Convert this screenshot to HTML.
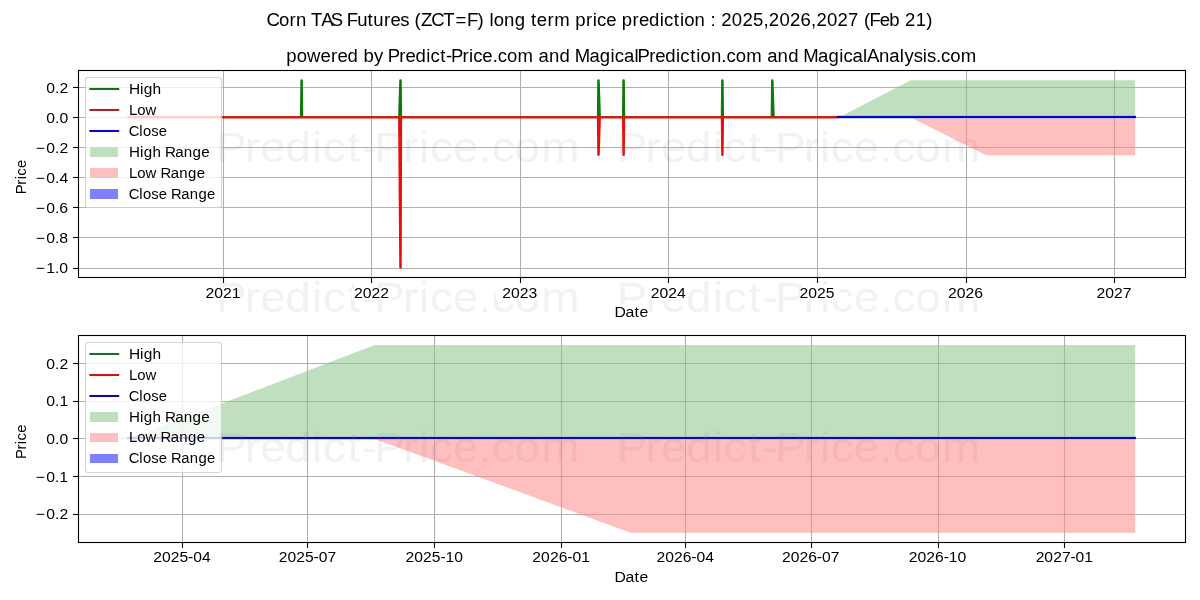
<!DOCTYPE html>
<html lang="en"><head><meta charset="utf-8"><title>Corn TAS Futures (ZCT=F) long term price prediction</title>
<style>html,body{margin:0;padding:0;background:#fff}body{width:1200px;height:600px;overflow:hidden}svg{display:block;will-change:transform}text{font-family:"Liberation Sans",sans-serif;white-space:pre;font-variant-ligatures:none;font-kerning:none}</style></head><body>
<svg width="1200" height="600" viewBox="0 0 1200 600">
<rect width="1200" height="600" fill="#fff"/>
<!-- axes 0 -->
<clipPath id="clip0"><rect x="78.5" y="70.5" width="1107.0" height="207.0"/></clipPath>
<g clip-path="url(#clip0)">
<line x1="223.5" y1="70.5" x2="223.5" y2="277.5" stroke="#b0b0b0" stroke-width="1.11"/>
<line x1="371.5" y1="70.5" x2="371.5" y2="277.5" stroke="#b0b0b0" stroke-width="1.11"/>
<line x1="520.5" y1="70.5" x2="520.5" y2="277.5" stroke="#b0b0b0" stroke-width="1.11"/>
<line x1="668.5" y1="70.5" x2="668.5" y2="277.5" stroke="#b0b0b0" stroke-width="1.11"/>
<line x1="817.5" y1="70.5" x2="817.5" y2="277.5" stroke="#b0b0b0" stroke-width="1.11"/>
<line x1="966.5" y1="70.5" x2="966.5" y2="277.5" stroke="#b0b0b0" stroke-width="1.11"/>
<line x1="1114.5" y1="70.5" x2="1114.5" y2="277.5" stroke="#b0b0b0" stroke-width="1.11"/>
<line x1="78.5" y1="268.5" x2="1185.5" y2="268.5" stroke="#b0b0b0" stroke-width="1.11"/>
<line x1="78.5" y1="237.5" x2="1185.5" y2="237.5" stroke="#b0b0b0" stroke-width="1.11"/>
<line x1="78.5" y1="207.5" x2="1185.5" y2="207.5" stroke="#b0b0b0" stroke-width="1.11"/>
<line x1="78.5" y1="177.5" x2="1185.5" y2="177.5" stroke="#b0b0b0" stroke-width="1.11"/>
<line x1="78.5" y1="147.5" x2="1185.5" y2="147.5" stroke="#b0b0b0" stroke-width="1.11"/>
<line x1="78.5" y1="117.5" x2="1185.5" y2="117.5" stroke="#b0b0b0" stroke-width="1.11"/>
<line x1="78.5" y1="87.5" x2="1185.5" y2="87.5" stroke="#b0b0b0" stroke-width="1.11"/>
<polygon points="838.32,117.78 1135.18,117.78 1135.18,80.22 911.11,80.22 910.71,80.35 838.32,117.78" fill="#bfdfbf"/>
<polygon points="838.32,117.78 1135.18,117.78 1135.18,155.33 986.34,155.33 911.11,117.86 910.71,117.78 838.32,117.78" fill="#ffbfbf"/>
<clipPath id="fillclip0"><polygon points="838.32,117.78 1135.18,117.78 1135.18,80.22 911.11,80.22 910.71,80.35 838.32,117.78"/><polygon points="838.32,117.78 1135.18,117.78 1135.18,155.33 986.34,155.33 911.11,117.86 910.71,117.78 838.32,117.78"/></clipPath>
<g clip-path="url(#fillclip0)">
<line x1="223.5" y1="70.5" x2="223.5" y2="277.5" stroke="#000" stroke-opacity="0.165" stroke-width="1.11"/>
<line x1="371.5" y1="70.5" x2="371.5" y2="277.5" stroke="#000" stroke-opacity="0.165" stroke-width="1.11"/>
<line x1="520.5" y1="70.5" x2="520.5" y2="277.5" stroke="#000" stroke-opacity="0.165" stroke-width="1.11"/>
<line x1="668.5" y1="70.5" x2="668.5" y2="277.5" stroke="#000" stroke-opacity="0.165" stroke-width="1.11"/>
<line x1="817.5" y1="70.5" x2="817.5" y2="277.5" stroke="#000" stroke-opacity="0.165" stroke-width="1.11"/>
<line x1="966.5" y1="70.5" x2="966.5" y2="277.5" stroke="#000" stroke-opacity="0.165" stroke-width="1.11"/>
<line x1="1114.5" y1="70.5" x2="1114.5" y2="277.5" stroke="#000" stroke-opacity="0.165" stroke-width="1.11"/>
<line x1="78.5" y1="268.5" x2="1185.5" y2="268.5" stroke="#000" stroke-opacity="0.165" stroke-width="1.11"/>
<line x1="78.5" y1="237.5" x2="1185.5" y2="237.5" stroke="#000" stroke-opacity="0.165" stroke-width="1.11"/>
<line x1="78.5" y1="207.5" x2="1185.5" y2="207.5" stroke="#000" stroke-opacity="0.165" stroke-width="1.11"/>
<line x1="78.5" y1="177.5" x2="1185.5" y2="177.5" stroke="#000" stroke-opacity="0.165" stroke-width="1.11"/>
<line x1="78.5" y1="147.5" x2="1185.5" y2="147.5" stroke="#000" stroke-opacity="0.165" stroke-width="1.11"/>
<line x1="78.5" y1="117.5" x2="1185.5" y2="117.5" stroke="#000" stroke-opacity="0.165" stroke-width="1.11"/>
<line x1="78.5" y1="87.5" x2="1185.5" y2="87.5" stroke="#000" stroke-opacity="0.165" stroke-width="1.11"/>
</g>
<polyline points="301.20,117.28 301.60,80.42 302.00,117.28" fill="none" stroke="#0a7a09" stroke-width="2.5" stroke-linejoin="round"/>
<polyline points="399.30,117.28 400.50,80.42 400.90,117.28" fill="none" stroke="#0a7a09" stroke-width="2.5" stroke-linejoin="round"/>
<polyline points="598.10,117.28 598.50,80.42 599.70,117.28" fill="none" stroke="#0a7a09" stroke-width="2.5" stroke-linejoin="round"/>
<polyline points="623.20,117.28 623.60,80.42 624.00,117.28" fill="none" stroke="#0a7a09" stroke-width="2.5" stroke-linejoin="round"/>
<polyline points="722.00,117.28 722.40,80.42 722.80,117.28" fill="none" stroke="#0a7a09" stroke-width="2.5" stroke-linejoin="round"/>
<polyline points="771.90,117.28 772.30,80.42 773.50,117.28" fill="none" stroke="#0a7a09" stroke-width="2.5" stroke-linejoin="round"/>
<line x1="127.2" y1="117.27" x2="838.9" y2="117.27" stroke="#ca210f" stroke-width="2.55"/>
<polyline points="399.30,117.28 400.50,267.50 400.90,117.28" fill="none" stroke="#e80f0a" stroke-width="2.5" stroke-linejoin="round"/>
<polyline points="598.10,117.28 598.50,154.83 599.70,117.28" fill="none" stroke="#e80f0a" stroke-width="2.5" stroke-linejoin="round"/>
<polyline points="623.20,117.28 623.60,154.83 624.00,117.28" fill="none" stroke="#e80f0a" stroke-width="2.5" stroke-linejoin="round"/>
<polyline points="722.00,117.28 722.40,154.83 722.80,117.28" fill="none" stroke="#e80f0a" stroke-width="2.5" stroke-linejoin="round"/>
<line x1="836.78" y1="117" x2="1136.06" y2="117" stroke="#a5afff" stroke-opacity="0.6" stroke-width="4"/>
<line x1="836.78" y1="117" x2="1136.06" y2="117" stroke="#0608bc" stroke-width="2.08"/>
</g>
<rect x="78.5" y="70.5" width="1107.0" height="207.0" fill="none" stroke="#000" stroke-width="1.1"/>
<line x1="223.5" y1="277.5" x2="223.5" y2="282.9" stroke="#000" stroke-width="1.1"/>
<line x1="371.5" y1="277.5" x2="371.5" y2="282.9" stroke="#000" stroke-width="1.1"/>
<line x1="520.5" y1="277.5" x2="520.5" y2="282.9" stroke="#000" stroke-width="1.1"/>
<line x1="668.5" y1="277.5" x2="668.5" y2="282.9" stroke="#000" stroke-width="1.1"/>
<line x1="817.5" y1="277.5" x2="817.5" y2="282.9" stroke="#000" stroke-width="1.1"/>
<line x1="966.5" y1="277.5" x2="966.5" y2="282.9" stroke="#000" stroke-width="1.1"/>
<line x1="1114.5" y1="277.5" x2="1114.5" y2="282.9" stroke="#000" stroke-width="1.1"/>
<line x1="73.1" y1="268.5" x2="78.5" y2="268.5" stroke="#000" stroke-width="1.1"/>
<line x1="73.1" y1="237.5" x2="78.5" y2="237.5" stroke="#000" stroke-width="1.1"/>
<line x1="73.1" y1="207.5" x2="78.5" y2="207.5" stroke="#000" stroke-width="1.1"/>
<line x1="73.1" y1="177.5" x2="78.5" y2="177.5" stroke="#000" stroke-width="1.1"/>
<line x1="73.1" y1="147.5" x2="78.5" y2="147.5" stroke="#000" stroke-width="1.1"/>
<line x1="73.1" y1="117.5" x2="78.5" y2="117.5" stroke="#000" stroke-width="1.1"/>
<line x1="73.1" y1="87.5" x2="78.5" y2="87.5" stroke="#000" stroke-width="1.1"/>
<rect x="85.5" y="77.5" width="136.0" height="130.0" rx="2.8" ry="2.8" fill="#fff" fill-opacity="0.8" stroke="#ccc" stroke-opacity="0.8" stroke-width="1.1"/>
<line x1="89.36" y1="89" x2="119.22" y2="89" stroke="#12701c" stroke-width="2.08"/>
<text transform="translate(129.29,93.83) scale(1.0579,1)" x="-0.36 10.06 13.59 21.91" y="0" font-size="14.65" fill="#000">High</text>
<line x1="89.36" y1="110" x2="119.22" y2="110" stroke="#a5252a" stroke-width="2.08"/>
<text transform="translate(129.29,114.78) scale(1.0186,1)" x="-0.27 7.71 16.00" y="0" font-size="14.65" fill="#000">Low</text>
<line x1="89.36" y1="131" x2="119.22" y2="131" stroke="#0b08c5" stroke-width="2.08"/>
<text transform="translate(129.29,135.72) scale(1.0077,1)" x="-0.49 9.89 13.56 21.76 29.16" y="0" font-size="14.65" fill="#000">Close</text>
<rect x="90" y="147" width="28" height="10" fill="#bfdfbf"/>
<text transform="translate(129.29,156.67) scale(1.0361,1)" x="-0.25 10.32 13.99 22.50 30.91 34.45 44.42 52.49 61.00 69.38" y="0" font-size="14.65" fill="#000">High Range</text>
<rect x="90" y="168" width="28" height="10" fill="#ffbfbf"/>
<text transform="translate(129.29,177.61) scale(1.0200,1)" x="-0.28 7.69 15.98 26.98 30.63 40.75 48.96 57.61 66.12" y="0" font-size="14.65" fill="#000">Low Range</text>
<rect x="90" y="189" width="28" height="10" fill="#7f7fff"/>
<text transform="translate(129.29,198.56) scale(1.0148,1)" x="-0.51 9.83 13.47 21.63 28.99 37.41 41.09 51.24 59.48 68.16 76.71" y="0" font-size="14.65" fill="#000">Close Range</text>
<!-- axes 1 -->
<clipPath id="clip1"><rect x="78.5" y="335.5" width="1107.0" height="207.0"/></clipPath>
<g clip-path="url(#clip1)">
<line x1="182.5" y1="335.5" x2="182.5" y2="542.5" stroke="#b0b0b0" stroke-width="1.11"/>
<line x1="307.5" y1="335.5" x2="307.5" y2="542.5" stroke="#b0b0b0" stroke-width="1.11"/>
<line x1="434.5" y1="335.5" x2="434.5" y2="542.5" stroke="#b0b0b0" stroke-width="1.11"/>
<line x1="561.5" y1="335.5" x2="561.5" y2="542.5" stroke="#b0b0b0" stroke-width="1.11"/>
<line x1="685.5" y1="335.5" x2="685.5" y2="542.5" stroke="#b0b0b0" stroke-width="1.11"/>
<line x1="811.5" y1="335.5" x2="811.5" y2="542.5" stroke="#b0b0b0" stroke-width="1.11"/>
<line x1="938.5" y1="335.5" x2="938.5" y2="542.5" stroke="#b0b0b0" stroke-width="1.11"/>
<line x1="1064.5" y1="335.5" x2="1064.5" y2="542.5" stroke="#b0b0b0" stroke-width="1.11"/>
<line x1="78.5" y1="514.5" x2="1185.5" y2="514.5" stroke="#b0b0b0" stroke-width="1.11"/>
<line x1="78.5" y1="476.5" x2="1185.5" y2="476.5" stroke="#b0b0b0" stroke-width="1.11"/>
<line x1="78.5" y1="438.5" x2="1185.5" y2="438.5" stroke="#b0b0b0" stroke-width="1.11"/>
<line x1="78.5" y1="401.5" x2="1185.5" y2="401.5" stroke="#b0b0b0" stroke-width="1.11"/>
<line x1="78.5" y1="363.5" x2="1185.5" y2="363.5" stroke="#b0b0b0" stroke-width="1.11"/>
<polygon points="128.73,438.94 1135.18,438.94 1135.18,345.06 375.51,345.06 374.13,345.37 128.73,438.94" fill="#bfdfbf"/>
<polygon points="128.73,438.94 1135.18,438.94 1135.18,532.83 630.57,532.83 375.51,439.15 374.13,438.94 128.73,438.94" fill="#ffbfbf"/>
<clipPath id="fillclip1"><polygon points="128.73,438.94 1135.18,438.94 1135.18,345.06 375.51,345.06 374.13,345.37 128.73,438.94"/><polygon points="128.73,438.94 1135.18,438.94 1135.18,532.83 630.57,532.83 375.51,439.15 374.13,438.94 128.73,438.94"/></clipPath>
<g clip-path="url(#fillclip1)">
<line x1="182.5" y1="335.5" x2="182.5" y2="542.5" stroke="#000" stroke-opacity="0.165" stroke-width="1.11"/>
<line x1="307.5" y1="335.5" x2="307.5" y2="542.5" stroke="#000" stroke-opacity="0.165" stroke-width="1.11"/>
<line x1="434.5" y1="335.5" x2="434.5" y2="542.5" stroke="#000" stroke-opacity="0.165" stroke-width="1.11"/>
<line x1="561.5" y1="335.5" x2="561.5" y2="542.5" stroke="#000" stroke-opacity="0.165" stroke-width="1.11"/>
<line x1="685.5" y1="335.5" x2="685.5" y2="542.5" stroke="#000" stroke-opacity="0.165" stroke-width="1.11"/>
<line x1="811.5" y1="335.5" x2="811.5" y2="542.5" stroke="#000" stroke-opacity="0.165" stroke-width="1.11"/>
<line x1="938.5" y1="335.5" x2="938.5" y2="542.5" stroke="#000" stroke-opacity="0.165" stroke-width="1.11"/>
<line x1="1064.5" y1="335.5" x2="1064.5" y2="542.5" stroke="#000" stroke-opacity="0.165" stroke-width="1.11"/>
<line x1="78.5" y1="514.5" x2="1185.5" y2="514.5" stroke="#000" stroke-opacity="0.165" stroke-width="1.11"/>
<line x1="78.5" y1="476.5" x2="1185.5" y2="476.5" stroke="#000" stroke-opacity="0.165" stroke-width="1.11"/>
<line x1="78.5" y1="438.5" x2="1185.5" y2="438.5" stroke="#000" stroke-opacity="0.165" stroke-width="1.11"/>
<line x1="78.5" y1="401.5" x2="1185.5" y2="401.5" stroke="#000" stroke-opacity="0.165" stroke-width="1.11"/>
<line x1="78.5" y1="363.5" x2="1185.5" y2="363.5" stroke="#000" stroke-opacity="0.165" stroke-width="1.11"/>
</g>
<line x1="127.19" y1="438" x2="1136.06" y2="438" stroke="#a5afff" stroke-opacity="0.6" stroke-width="4"/>
<line x1="127.19" y1="438" x2="1136.06" y2="438" stroke="#0e118c" stroke-width="2.08"/>
</g>
<rect x="78.5" y="335.5" width="1107.0" height="207.0" fill="none" stroke="#000" stroke-width="1.1"/>
<line x1="182.5" y1="542.5" x2="182.5" y2="547.9" stroke="#000" stroke-width="1.1"/>
<line x1="307.5" y1="542.5" x2="307.5" y2="547.9" stroke="#000" stroke-width="1.1"/>
<line x1="434.5" y1="542.5" x2="434.5" y2="547.9" stroke="#000" stroke-width="1.1"/>
<line x1="561.5" y1="542.5" x2="561.5" y2="547.9" stroke="#000" stroke-width="1.1"/>
<line x1="685.5" y1="542.5" x2="685.5" y2="547.9" stroke="#000" stroke-width="1.1"/>
<line x1="811.5" y1="542.5" x2="811.5" y2="547.9" stroke="#000" stroke-width="1.1"/>
<line x1="938.5" y1="542.5" x2="938.5" y2="547.9" stroke="#000" stroke-width="1.1"/>
<line x1="1064.5" y1="542.5" x2="1064.5" y2="547.9" stroke="#000" stroke-width="1.1"/>
<line x1="73.1" y1="514.5" x2="78.5" y2="514.5" stroke="#000" stroke-width="1.1"/>
<line x1="73.1" y1="476.5" x2="78.5" y2="476.5" stroke="#000" stroke-width="1.1"/>
<line x1="73.1" y1="438.5" x2="78.5" y2="438.5" stroke="#000" stroke-width="1.1"/>
<line x1="73.1" y1="401.5" x2="78.5" y2="401.5" stroke="#000" stroke-width="1.1"/>
<line x1="73.1" y1="363.5" x2="78.5" y2="363.5" stroke="#000" stroke-width="1.1"/>
<rect x="85.5" y="342.5" width="136.0" height="130.0" rx="2.8" ry="2.8" fill="#fff" fill-opacity="0.8" stroke="#ccc" stroke-opacity="0.8" stroke-width="1.1"/>
<line x1="89.36" y1="354" x2="119.22" y2="354" stroke="#27642a" stroke-width="2.08"/>
<text transform="translate(129.29,358.67) scale(1.0579,1)" x="-0.36 10.06 13.59 21.91" y="0" font-size="14.65" fill="#000">High</text>
<line x1="89.36" y1="375" x2="119.22" y2="375" stroke="#cd1319" stroke-width="2.08"/>
<text transform="translate(129.29,379.61) scale(1.0186,1)" x="-0.27 7.71 16.00" y="0" font-size="14.65" fill="#000">Low</text>
<line x1="89.36" y1="396" x2="119.22" y2="396" stroke="#130a92" stroke-width="2.08"/>
<text transform="translate(129.29,400.56) scale(1.0077,1)" x="-0.49 9.89 13.56 21.76 29.16" y="0" font-size="14.65" fill="#000">Close</text>
<rect x="90" y="412" width="28" height="10" fill="#bfdfbf"/>
<text transform="translate(129.29,421.50) scale(1.0361,1)" x="-0.25 10.32 13.99 22.50 30.91 34.45 44.42 52.49 61.00 69.38" y="0" font-size="14.65" fill="#000">High Range</text>
<rect x="90" y="433" width="28" height="9" fill="#ffbfbf"/>
<text transform="translate(129.29,442.44) scale(1.0200,1)" x="-0.28 7.69 15.98 26.98 30.63 40.75 48.96 57.61 66.12" y="0" font-size="14.65" fill="#000">Low Range</text>
<rect x="90" y="454" width="28" height="9" fill="#7f7fff"/>
<text transform="translate(129.29,463.39) scale(1.0148,1)" x="-0.51 9.83 13.47 21.63 28.99 37.41 41.09 51.24 59.48 68.16 76.71" y="0" font-size="14.65" fill="#000">Close Range</text>
<!-- watermark -->
<g fill-opacity="0.1">
<text transform="translate(267.44,26.00) scale(1.0707,1)" x="-0.84 10.76 20.63 26.80 36.31 40.63 50.19 59.21 69.97 74.01 83.87 93.38 98.93 108.97 114.99 123.95 132.38 137.39 143.32 153.09 164.21 175.68 186.40 196.30 202.27 207.37 211.38 221.04 230.88 240.67 246.18 251.58 261.48 267.88 282.44 287.42 297.47 303.77 307.78 316.33 325.98 330.96 341.01 347.03 356.38 366.36 370.37 379.59 385.28 389.28 398.94 408.73 413.81 418.89 423.88 433.74 443.61 453.48 463.29 468.28 478.15 488.02 497.89 507.70 512.69 522.56 532.43 542.29 552.11 557.12 562.20 571.90 580.75 590.55 595.54 605.41 615.30" y="0" font-size="17.33" fill="#808080">Corn TAS Futures (ZCT=F) long term price prediction : 2025,2026,2027 (Feb 21)</text>
<text transform="translate(218.66,162.00) scale(1.0583,1)" x="-2.60 24.59 39.22 62.93 88.10 98.35 121.67 135.28 146.98 174.17 189.41 199.66 221.33 245.70 257.95 279.57 304.73" y="0" font-size="43.33" fill="#808080">Predict-Price.com</text>
<text transform="translate(619.46,162.00) scale(1.0583,1)" x="-2.60 24.59 39.22 62.93 88.10 98.35 121.67 135.28 146.98 174.17 189.41 199.66 221.33 245.70 257.95 279.57 304.73" y="0" font-size="43.33" fill="#808080">Predict-Price.com</text>
<text transform="translate(218.66,312.00) scale(1.0583,1)" x="-2.60 24.59 39.22 62.93 88.10 98.35 121.67 135.28 146.98 174.17 189.41 199.66 221.33 245.70 257.95 279.57 304.73" y="0" font-size="43.33" fill="#808080">Predict-Price.com</text>
<text transform="translate(619.46,312.00) scale(1.0583,1)" x="-2.60 24.59 39.22 62.93 88.10 98.35 121.67 135.28 146.98 174.17 189.41 199.66 221.33 245.70 257.95 279.57 304.73" y="0" font-size="43.33" fill="#808080">Predict-Price.com</text>
<text transform="translate(218.66,462.00) scale(1.0583,1)" x="-2.60 24.59 39.22 62.93 88.10 98.35 121.67 135.28 146.98 174.17 189.41 199.66 221.33 245.70 257.95 279.57 304.73" y="0" font-size="43.33" fill="#808080">Predict-Price.com</text>
<text transform="translate(619.46,462.00) scale(1.0583,1)" x="-2.60 24.59 39.22 62.93 88.10 98.35 121.67 135.28 146.98 174.17 189.41 199.66 221.33 245.70 257.95 279.57 304.73" y="0" font-size="43.33" fill="#808080">Predict-Price.com</text>
</g>
<!-- labels -->
<rect x="200" y="288" width="40" height="12" fill="#fff"/>
<rect x="352" y="288" width="40" height="12" fill="#fff"/>
<rect x="496" y="288" width="48" height="12" fill="#fff"/>
<rect x="648" y="288" width="40" height="12" fill="#fff"/>
<rect x="800" y="288" width="40" height="12" fill="#fff"/>
<rect x="944" y="288" width="40" height="12" fill="#fff"/>
<rect x="616" y="304" width="32" height="16" fill="#fff"/>
<text transform="translate(205.41,297.61) scale(1.0777,1)" x="-0.00 8.15 16.30 24.45" y="0" font-size="14.65" fill="#000">2021</text>
<text transform="translate(353.90,297.61) scale(1.0737,1)" x="-0.00 8.15 16.30 24.45" y="0" font-size="14.65" fill="#000">2022</text>
<text transform="translate(502.33,297.61) scale(1.0737,1)" x="-0.00 8.15 16.30 24.45" y="0" font-size="14.65" fill="#000">2023</text>
<text transform="translate(650.75,297.61) scale(1.0737,1)" x="-0.00 8.15 16.30 24.45" y="0" font-size="14.65" fill="#000">2024</text>
<text transform="translate(799.59,297.61) scale(1.0737,1)" x="-0.00 8.15 16.30 24.45" y="0" font-size="14.65" fill="#000">2025</text>
<text transform="translate(947.95,297.61) scale(1.0774,1)" x="-0.00 8.15 16.30 24.45" y="0" font-size="14.65" fill="#000">2026</text>
<text transform="translate(1096.44,297.61) scale(1.0737,1)" x="-0.00 8.15 16.30 24.45" y="0" font-size="14.65" fill="#000">2027</text>
<text transform="translate(34.56,273.00) scale(1.0810,1)" x="1.09 10.73 18.88 22.95" y="0" font-size="14.65" fill="#000">−1.0</text>
<text transform="translate(34.56,242.96) scale(1.0810,1)" x="1.09 10.73 18.88 22.95" y="0" font-size="14.65" fill="#000">−0.8</text>
<text transform="translate(34.56,212.91) scale(1.0810,1)" x="1.09 10.73 18.88 22.95" y="0" font-size="14.65" fill="#000">−0.6</text>
<text transform="translate(34.68,182.87) scale(1.0771,1)" x="1.09 10.73 18.88 22.95" y="0" font-size="14.65" fill="#000">−0.4</text>
<text transform="translate(34.68,152.82) scale(1.0771,1)" x="1.09 10.73 18.88 22.95" y="0" font-size="14.65" fill="#000">−0.2</text>
<text transform="translate(46.31,122.78) scale(1.0737,1)" x="-0.00 8.15 12.22" y="0" font-size="14.65" fill="#000">0.0</text>
<text transform="translate(46.31,92.73) scale(1.0737,1)" x="-0.00 8.15 12.22" y="0" font-size="14.65" fill="#000">0.2</text>
<text transform="translate(614.76,317.17) scale(1.0785,1)" x="-0.30 9.86 18.41 22.89" y="0" font-size="14.65" fill="#000">Date</text>
<text transform="translate(26.00,193.45) rotate(-90) scale(1.0149,1)" x="-0.76 8.63 13.91 17.54 25.10" y="0" font-size="14.65" fill="#000">Price</text>
<text transform="translate(286.26,62.00) scale(1.0548,1)" x="0.11 9.93 19.71 32.46 42.51 48.62 58.12 68.07 73.12 83.27 92.39 96.22 107.14 112.98 122.48 132.60 136.67 146.04 151.48 156.13 167.06 173.18 177.25 185.93 195.72 200.60 209.26 219.31 234.36 239.23 249.06 259.05 268.99 273.41 287.45 297.28 307.40 311.47 320.13 330.08 333.11 344.03 349.87 359.37 369.49 373.56 382.93 388.70 392.76 402.57 412.51 417.39 426.04 436.09 451.14 456.02 465.84 475.83 485.77 490.19 504.23 514.07 524.19 528.26 536.91 546.87 550.53 561.88 571.69 581.64 586.05 594.81 603.54 607.39 615.94 620.82 629.48 639.53" y="0" font-size="17.58" fill="#000">powered by Predict-Price.com and MagicalPrediction.com and MagicalAnalysis.com</text>
<text transform="translate(153.31,562.44) scale(1.0669,1)" x="0.02 8.21 16.40 24.58 32.64 37.42 45.61" y="0" font-size="14.65" fill="#000">2025-04</text>
<text transform="translate(278.77,562.44) scale(1.0669,1)" x="0.02 8.21 16.40 24.58 32.64 37.42 45.61" y="0" font-size="14.65" fill="#000">2025-07</text>
<text transform="translate(405.55,562.44) scale(1.0693,1)" x="0.02 8.21 16.40 24.58 32.64 37.42 45.61" y="0" font-size="14.65" fill="#000">2025-10</text>
<text transform="translate(532.33,562.44) scale(1.0715,1)" x="0.02 8.21 16.40 24.58 32.64 37.42 45.61" y="0" font-size="14.65" fill="#000">2026-01</text>
<text transform="translate(656.47,562.44) scale(1.0693,1)" x="0.02 8.21 16.40 24.58 32.64 37.42 45.61" y="0" font-size="14.65" fill="#000">2026-04</text>
<text transform="translate(781.93,562.44) scale(1.0693,1)" x="0.02 8.21 16.40 24.58 32.64 37.42 45.61" y="0" font-size="14.65" fill="#000">2026-07</text>
<text transform="translate(908.71,562.44) scale(1.0717,1)" x="0.02 8.21 16.40 24.58 32.64 37.42 45.61" y="0" font-size="14.65" fill="#000">2026-10</text>
<text transform="translate(1035.61,562.44) scale(1.0693,1)" x="0.02 8.21 16.40 24.58 32.64 37.42 45.61" y="0" font-size="14.65" fill="#000">2027-01</text>
<text transform="translate(34.68,519.06) scale(1.0771,1)" x="1.09 10.73 18.88 22.95" y="0" font-size="14.65" fill="#000">−0.2</text>
<text transform="translate(34.56,481.50) scale(1.0810,1)" x="1.09 10.73 18.88 22.95" y="0" font-size="14.65" fill="#000">−0.1</text>
<text transform="translate(46.31,443.94) scale(1.0737,1)" x="-0.00 8.15 12.22" y="0" font-size="14.65" fill="#000">0.0</text>
<text transform="translate(46.18,406.39) scale(1.0801,1)" x="-0.00 8.15 12.22" y="0" font-size="14.65" fill="#000">0.1</text>
<text transform="translate(46.31,368.83) scale(1.0737,1)" x="-0.00 8.15 12.22" y="0" font-size="14.65" fill="#000">0.2</text>
<text transform="translate(614.76,582.00) scale(1.0785,1)" x="-0.30 9.86 18.41 22.89" y="0" font-size="14.65" fill="#000">Date</text>
<text transform="translate(26.00,458.28) rotate(-90) scale(1.0146,1)" x="-0.76 8.63 13.91 17.54 25.10" y="0" font-size="14.65" fill="#000">Price</text>
<text transform="translate(267.44,26.00) scale(1.0555,1)" x="-0.86 10.91 20.93 27.18 36.84 41.22 50.91 60.07 70.98 75.08 85.08 94.73 100.36 110.54 116.65 125.74 134.29 139.38 145.39 155.30 166.58 178.21 189.09 199.13 205.18 210.36 214.43 224.23 234.21 244.15 249.73 255.21 265.25 271.75 286.52 291.57 301.76 308.15 312.22 320.89 330.68 335.73 345.93 352.03 361.52 371.64 375.71 385.07 390.83 394.90 404.70 414.63 419.78 424.93 429.99 440.00 450.01 460.02 469.98 475.04 485.05 495.06 505.07 515.02 520.08 530.09 540.10 550.12 560.07 565.15 570.30 580.15 589.13 599.07 604.13 614.14 624.18" y="0" font-size="17.58" fill="#000">Corn TAS Futures (ZCT=F) long term price prediction : 2025,2026,2027 (Feb 21)</text>
</svg></body></html>
